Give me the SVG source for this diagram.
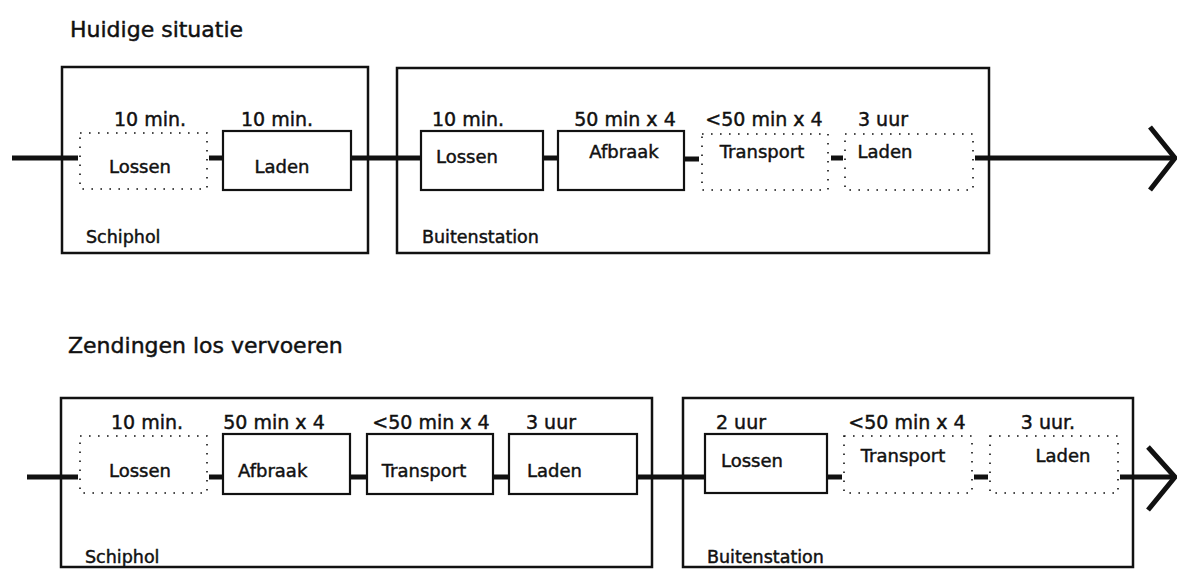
<svg xmlns="http://www.w3.org/2000/svg" width="1177" height="570" viewBox="0 0 1177 570">
<style>
text{font-family:"DejaVu Sans","Liberation Sans",sans-serif;fill:#111;stroke:#111;stroke-width:0.45}
.title{font-size:22px}
.t{font-size:19px;text-anchor:middle}
.l{font-size:17.5px}
.b{font-size:18px}
.lm{font-size:18px;text-anchor:middle}
.outer{fill:none;stroke:#111;stroke-width:2.5}
.solid{fill:#fff;stroke:#111;stroke-width:2.2}
.dot{fill:#fff;stroke:#111;stroke-width:1.6;stroke-dasharray:1.6 7.4}
.c{stroke:#111;stroke-width:5;fill:none}
.arr{stroke:#111;stroke-width:5;fill:none;stroke-linejoin:miter}
</style>
<rect width="1177" height="570" fill="#fff"/>
<text class="title" x="70" y="37">Huidige situatie</text>
<text class="title" x="68" y="353">Zendingen los vervoeren</text>

<g id="group-schiphol-1"><rect class="outer" x="62" y="67" width="306" height="186"/><text class="l" x="86" y="243">Schiphol</text></g>
<g id="group-buiten-1"><rect class="outer" x="397" y="68" width="592" height="185"/><text class="l" x="422" y="243">Buitenstation</text></g>
<g id="group-schiphol-2"><rect class="outer" x="61" y="398" width="591" height="169"/><text class="l" x="85" y="563">Schiphol</text></g>
<g id="group-buiten-2"><rect class="outer" x="683" y="398" width="450" height="169"/><text class="l" x="707" y="563">Buitenstation</text></g>

<g id="connectors">
<line class="c" x1="12" y1="158" x2="78" y2="158"/>
<line class="c" x1="209" y1="158" x2="223" y2="158"/>
<line class="c" x1="351" y1="158" x2="421" y2="158"/>
<line class="c" x1="543" y1="158" x2="558" y2="158"/>
<line class="c" x1="684" y1="159" x2="699" y2="159"/>
<line class="c" x1="831" y1="158" x2="843" y2="158"/>
<line class="c" x1="975" y1="158" x2="1175" y2="158"/>
<polyline class="arr" points="1150,127 1175,158 1150,190"/>
<line class="c" x1="27" y1="477" x2="78" y2="477"/>
<line class="c" x1="209" y1="477" x2="223" y2="477"/>
<line class="c" x1="350" y1="477" x2="367" y2="477"/>
<line class="c" x1="493" y1="477" x2="509" y2="477"/>
<line class="c" x1="637" y1="477" x2="705" y2="477"/>
<line class="c" x1="828" y1="477" x2="842" y2="477"/>
<line class="c" x1="974" y1="477" x2="988" y2="477"/>
<line class="c" x1="1120" y1="477" x2="1175" y2="477"/>
<polyline class="arr" points="1148,447 1175,477 1148,510"/>
</g>

<g id="n1-lossen"><rect class="dot" x="80" y="133" width="127" height="56"/><text class="t" x="150" y="126">10 min.</text><text class="lm" x="140" y="173">Lossen</text></g>
<g id="n1-laden"><rect class="solid" x="223" y="131" width="128" height="59"/><text class="t" x="277" y="126">10 min.</text><text class="lm" x="282" y="173">Laden</text></g>
<g id="n1-b-lossen"><rect class="solid" x="421" y="131" width="122" height="59"/><text class="t" x="468" y="126">10 min.</text><text class="lm" x="467" y="163">Lossen</text></g>
<g id="n1-afbraak"><rect class="solid" x="558" y="131" width="126" height="59"/><text class="t" x="625" y="126">50 min x 4</text><text class="lm" x="624" y="158">Afbraak</text></g>
<g id="n1-transport"><rect class="dot" x="702" y="134" width="126" height="56"/><text class="t" x="764" y="126">&lt;50 min x 4</text><text class="lm" x="762" y="158">Transport</text></g>
<g id="n1-laden-b"><rect class="dot" x="845" y="134" width="128" height="56"/><text class="t" x="883" y="126">3 uur</text><text class="lm" x="885" y="158">Laden</text></g>

<g id="n2-lossen"><rect class="dot" x="80" y="436" width="127" height="57"/><text class="t" x="147" y="429">10 min.</text><text class="lm" x="140" y="477">Lossen</text></g>
<g id="n2-afbraak"><rect class="solid" x="223" y="434" width="127" height="60"/><text class="t" x="274" y="429">50 min x 4</text><text class="b" x="238" y="477">Afbraak</text></g>
<g id="n2-transport"><rect class="solid" x="367" y="434" width="126" height="60"/><text class="t" x="431" y="429">&lt;50 min x 4</text><text class="lm" x="424" y="477">Transport</text></g>
<g id="n2-laden"><rect class="solid" x="509" y="434" width="128" height="60"/><text class="t" x="551" y="429">3 uur</text><text class="b" x="527" y="477">Laden</text></g>
<g id="n2-b-lossen"><rect class="solid" x="705" y="434" width="122" height="59"/><text class="t" x="741" y="429">2 uur</text><text class="lm" x="752" y="467">Lossen</text></g>
<g id="n2-b-transport"><rect class="dot" x="844" y="436" width="128" height="57"/><text class="t" x="907" y="429">&lt;50 min x 4</text><text class="lm" x="903" y="462">Transport</text></g>
<g id="n2-b-laden"><rect class="dot" x="990" y="436" width="128" height="57"/><text class="t" x="1048" y="429">3 uur.</text><text class="lm" x="1063" y="462">Laden</text></g>
</svg>
